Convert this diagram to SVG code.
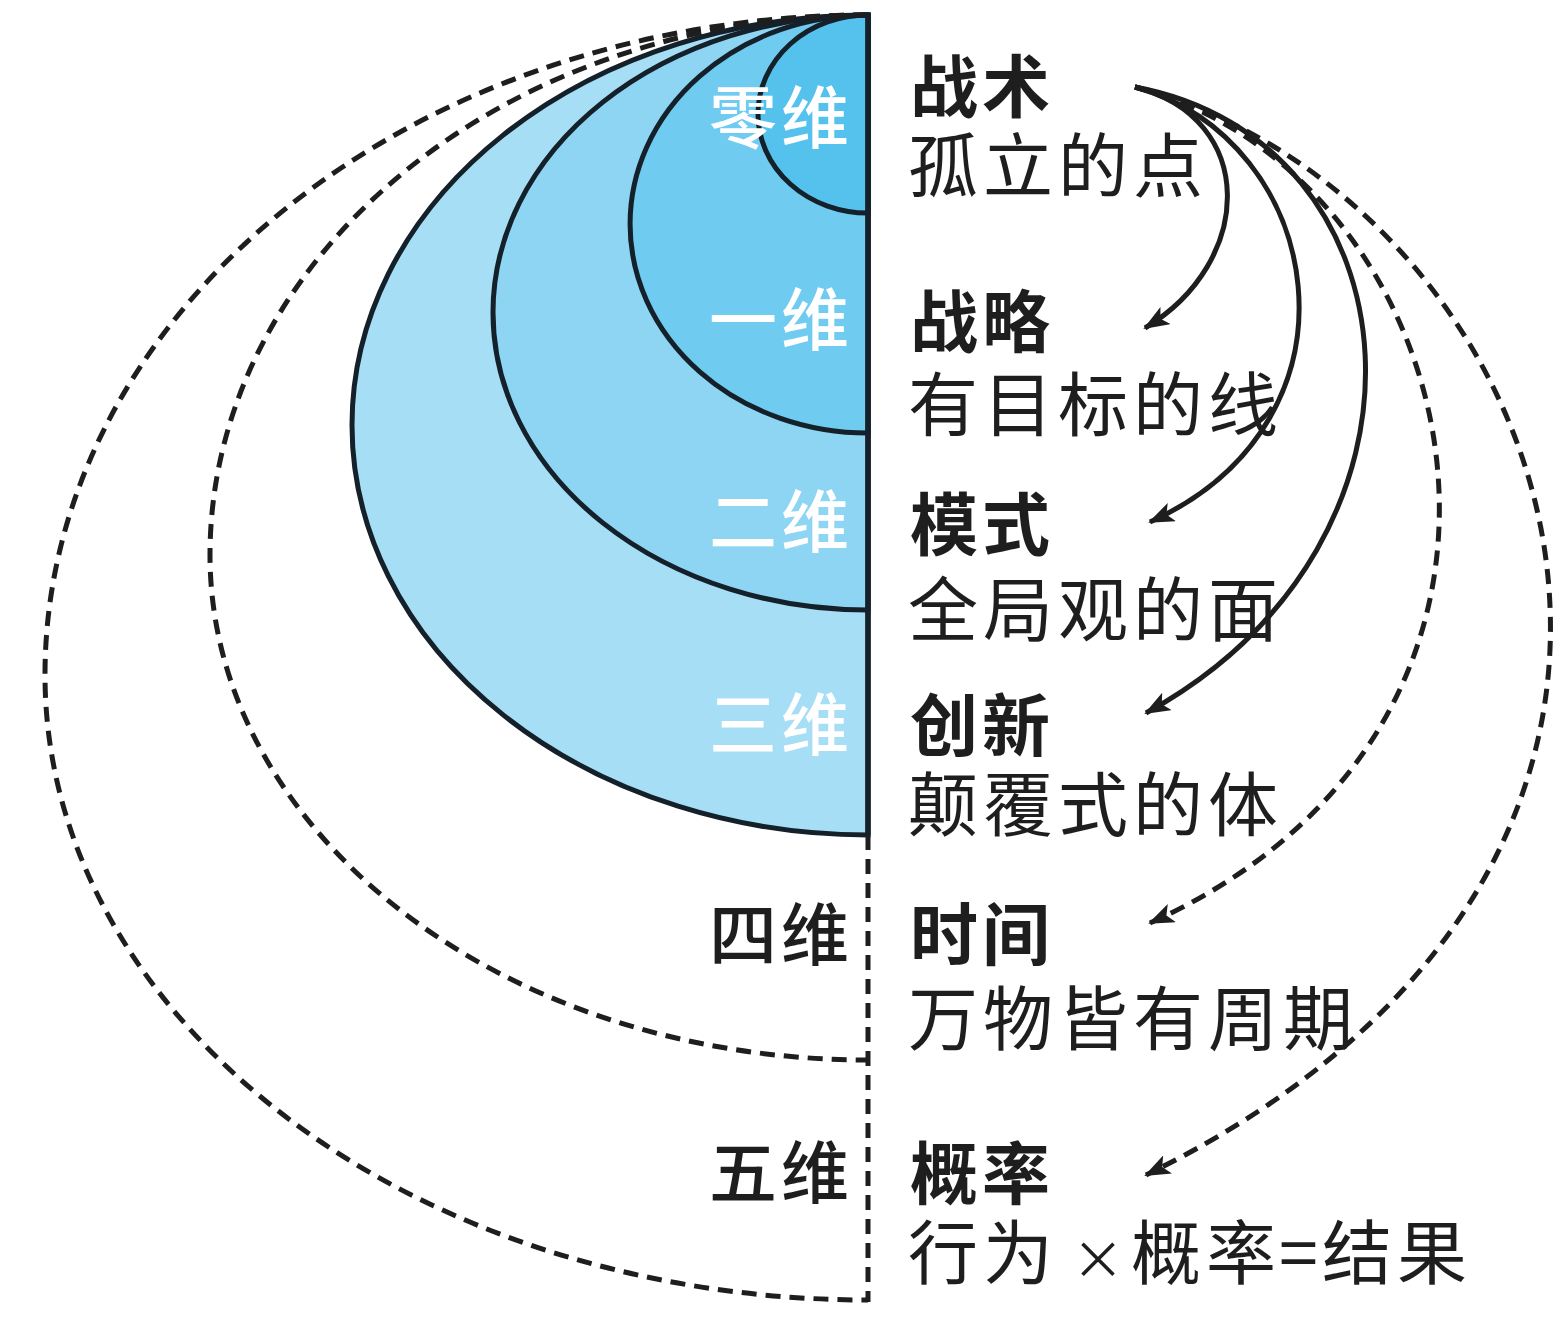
<svg xmlns="http://www.w3.org/2000/svg" width="1562" height="1342" viewBox="0 0 1562 1342">
<style>
.ring{stroke:#15212a;stroke-width:5;}
.dash{fill:none;stroke:#1e1e1e;stroke-width:5;stroke-dasharray:15 9;}
.arr{fill:none;stroke:#1e1e1e;stroke-width:5;marker-end:url(#ah);}
.arrd{fill:none;stroke:#1e1e1e;stroke-width:5;stroke-dasharray:15 9;marker-end:url(#ah);}
.t{font-family:"Noto Sans CJK SC","Noto Sans",sans-serif;font-size:70px;fill:#1e1e1e;letter-spacing:5px;}
.b{font-weight:700;font-size:68px;letter-spacing:4px;}
.dim{font-family:"Noto Sans CJK SC","Noto Sans",sans-serif;font-size:68px;font-weight:500;letter-spacing:4px;text-anchor:end;}
.w{fill:#ffffff;}
.k{fill:#1e1e1e;}
</style>
<defs>
<marker id="ah" markerUnits="userSpaceOnUse" viewBox="0 0 26 20" refX="24" refY="10" markerWidth="26" markerHeight="20" orient="auto">
<path d="M0,0 L26,10 L0,20 L6,10 z" fill="#1e1e1e"/>
</marker>
</defs>
<rect width="1562" height="1342" fill="#ffffff"/>
<g id="dim3">
<path class="ring" fill="#a6def6" d="M868,15 A516,410 0 0 0 868,835 Z"/>
</g>
<g id="dim2">
<path class="ring" fill="#8dd5f3" d="M868,15 A375,297.5 0 0 0 868,610 Z"/>
</g>
<g id="dim1">
<path class="ring" fill="#6fcbf0" d="M868,15 A238,209 0 0 0 868,433 Z"/>
</g>
<g id="dim0">
<path class="ring" fill="#55c1ed" d="M868,15 A110,99 0 0 0 868,213 Z"/>
</g>
<g id="dim4">
<path class="dash" d="M868,15 A658,540 0 0 0 210,555 A658,505 0 0 0 868,1060"/>
</g>
<g id="dim5">
<path class="dash" d="M868,15 A823,660 0 0 0 45,675 A823,625 0 0 0 868,1300"/>
</g>
<g id="axis">
<line x1="868" y1="13" x2="868" y2="835" stroke="#15212a" stroke-width="5.5"/>
<line x1="868" y1="835" x2="868" y2="1302" stroke="#1e1e1e" stroke-width="5" stroke-dasharray="15 9"/>
</g>
<g id="labels-left">
<text class="dim w" x="853" y="143">零维</text>
<text class="dim w" x="853" y="345">一维</text>
<text class="dim w" x="853" y="547">二维</text>
<text class="dim w" x="853" y="750">三维</text>
<text class="dim k" x="853" y="960">四维</text>
<text class="dim k" x="853" y="1198">五维</text>
</g>
<g id="n-tactic">
<text class="t b" x="910" y="112">战术</text>
<text class="t" x="908" y="192">孤立的点</text>
</g>
<g id="n-strategy">
<text class="t b" x="910" y="347">战略</text>
<text class="t" x="908" y="431">有目标的线</text>
</g>
<g id="n-model">
<text class="t b" x="910" y="550">模式</text>
<text class="t" x="908" y="636">全局观的面</text>
</g>
<g id="n-innovation">
<text class="t b" x="910" y="751">创新</text>
<text class="t" x="908" y="831">颠覆式的体</text>
</g>
<g id="n-time">
<text class="t b" x="910" y="960">时间</text>
<text class="t" x="908" y="1045">万物皆有周期</text>
</g>
<g id="n-prob">
<text class="t b" x="910" y="1199">概率</text>
<text class="t" x="908" y="1279">行为<tspan x="1072" font-size="52">×</tspan><tspan x="1131">概率</tspan><tspan x="1279">=</tspan><tspan x="1322">结果</tspan></text>
</g>
<g id="connectors">
<path class="arr" d="M1135,87 C1258,118 1255,262 1145,328"/>
<path class="arr" d="M1135,87 C1325,140 1375,420 1150,522"/>
<path class="arr" d="M1135,87 C1420,140 1460,540 1146,713"/>
<path class="arrd" d="M1135,87 C1470,175 1600,720 1150,923"/>
<path class="arrd" d="M1135,87 C1560,200 1800,855 1146,1175"/>
</g>
</svg>
